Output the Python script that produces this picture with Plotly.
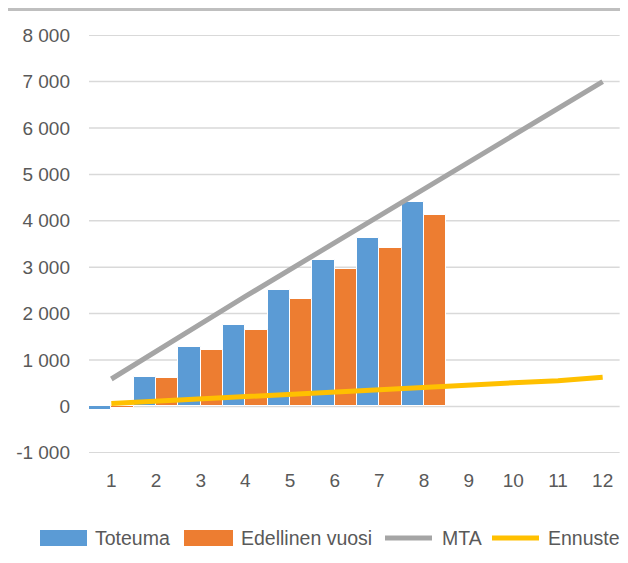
import plotly.graph_objects as go

categories = [str(i) for i in range(1, 13)]
toteuma = [-80, 630, 1290, 1750, 2500, 3150, 3630, 4410]
edellinen = [-40, 605, 1215, 1640, 2310, 2960, 3410, 4130]
mta = [590, 1200, 1780, 2370, 2950, 3540, 4120, 4700, 5290, 5850, 6420, 7000]
ennuste = [60, 110, 170, 230, 280, 330, 380, 430, 470, 510, 550, 630]
ytickvals = [-1000, 0, 1000, 2000, 3000, 4000, 5000, 6000, 7000, 8000]
yticktext = ["-1 000", "0", "1 000", "2 000", "3 000", "4 000", "5 000", "6 000", "7 000", "8 000"]
series_names = ["Toteuma", "Edellinen vuosi", "MTA", "Ennuste"]
series_colors = ["#5B9BD5", "#ED7D31", "#A5A5A5", "#FFC000"]

W, H = 620, 547
L, R, T, B = 81, 3, 27, 102
PW, PH = W - L - R, H - T - B


def px(x):
    return (x - L) / PW


def py(y):
    return (H - B - y) / PH


font = dict(family="Liberation Sans, Arial, sans-serif", size=19, color="#595959")
lfont = dict(family="Liberation Sans, Arial, sans-serif", size=19.5, color="#595959")

fig = go.Figure()
fig.add_trace(go.Bar(x=categories[:len(toteuma)], y=toteuma, name=series_names[0],
                     marker=dict(color=series_colors[0], line=dict(color="white", width=1))))
fig.add_trace(go.Bar(x=categories[:len(edellinen)], y=edellinen, name=series_names[1],
                     marker=dict(color=series_colors[1], line=dict(color="white", width=1))))
fig.add_trace(go.Scatter(x=categories, y=mta, name=series_names[2], mode="lines",
                         line=dict(color=series_colors[2], width=5)))
fig.add_trace(go.Scatter(x=categories, y=ennuste, name=series_names[3], mode="lines",
                         line=dict(color=series_colors[3], width=5)))

# horizontal gridlines at the y tick values
shapes = [dict(type="line", xref="paper", yref="y", x0=0, x1=0.99, y0=v, y1=v,
               layer="below", line=dict(color="#d9d9d9", width=1.5))
          for v in ytickvals]
# top border band
shapes.append(dict(type="line", xref="paper", yref="paper", x0=px(0), x1=px(W),
                   y0=py(1.5), y1=py(1.5), line=dict(color="#bfbfbf", width=3)))

# manual legend (pixel layout in figure coordinates)
sw_x = [(32, 79), (176, 225), (375, 426), (482, 533)]
txt_x = [85, 231, 432, 538]
ly = 530
annotations = []
for i, name in enumerate(series_names):
    x0, x1 = sw_x[i]
    if i < 2:
        shapes.append(dict(type="rect", xref="paper", yref="paper",
                           x0=px(x0), x1=px(x1), y0=py(ly + 8), y1=py(ly - 8),
                           fillcolor=series_colors[i], line=dict(width=0)))
    else:
        shapes.append(dict(type="line", xref="paper", yref="paper",
                           x0=px(x0 + 2), x1=px(x1 - 2), y0=py(ly), y1=py(ly),
                           line=dict(color=series_colors[i], width=5)))
    annotations.append(dict(text=name, xref="paper", yref="paper", x=px(txt_x[i]),
                            y=py(ly), xanchor="left", yanchor="middle",
                            showarrow=False, font=lfont))

fig.update_layout(
    width=W, height=H,
    margin=dict(l=L, r=R, t=T, b=B),
    paper_bgcolor="white", plot_bgcolor="white",
    font=font,
    barmode="group", bargap=0, bargroupgap=0,
    showlegend=False,
    shapes=shapes,
    annotations=annotations,
)
fig.update_xaxes(type="category", categoryarray=categories, range=[-0.5, 11.5],
                 showgrid=False, showline=False, ticks="", ticklabelstandoff=14,
                 tickfont=font)
fig.update_yaxes(range=[-1005, 8005], tickvals=ytickvals, ticktext=yticktext,
                 showgrid=False, zeroline=False,
                 showline=False, ticks="", ticklabelstandoff=18, tickfont=font)

fig.write_html("out.html")
